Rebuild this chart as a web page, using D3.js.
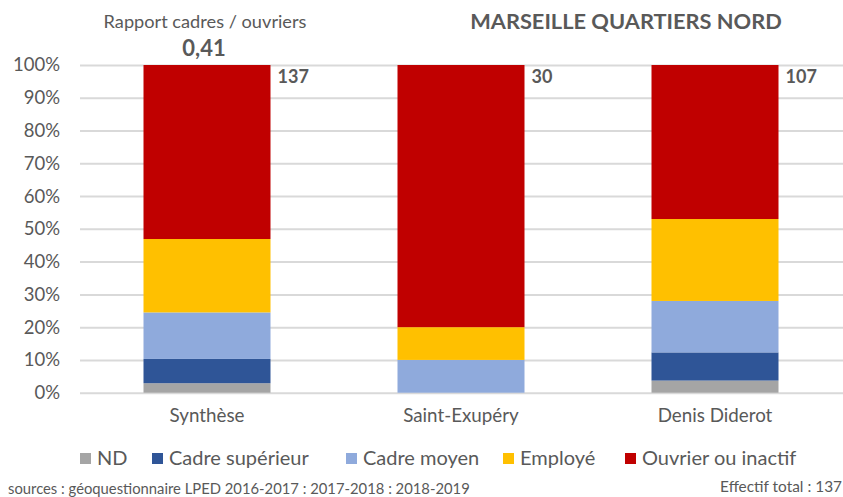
<!DOCTYPE html>
<html>
<head>
<meta charset="utf-8">
<script src="https://cdn.jsdelivr.net/npm/d3@7/dist/d3.min.js"></script>
<style>
  html, body { margin: 0; padding: 0; background: #fff; }
  svg { display: block; font-family: Lato, "Open Sans", sans-serif; }
</style>
</head>
<body>
<svg id="chart" width="843" height="497"></svg>
<script>
// Établissements (colonnes)
const categories = ["Synthèse", "Saint-Exupéry", "Denis Diderot"];
// Catégories socio-professionnelles, de bas en haut
const seriesNames = ["ND", "Cadre supérieur", "Cadre moyen", "Employé", "Ouvrier ou inactif"];
const seriesColors = ["#a5a5a5", "#2f5597", "#8faadc", "#ffc000", "#c00000"];
// Parts en % par établissement
const ndValues      = [2.9, 0.0, 3.7];
const cadreSupValues = [7.4, 0.0, 8.6];
const cadreMoyValues = [14.2, 10.0, 15.7];
const employeValues  = [22.4, 10.0, 25.0];
const ouvrierValues  = [53.1, 80.0, 47.0];
// Effectifs affichés au sommet des barres
const effectifs = [137, 30, 107];
const yTicks = [0, 10, 20, 30, 40, 50, 60, 70, 80, 90, 100];
const ratioLabel = "Rapport cadres / ouvriers";
const ratioValue = "0,41";
const titleText = "MARSEILLE QUARTIERS NORD";
const sourceText = "sources : géoquestionnaire LPED 2016-2017 : 2017-2018 : 2018-2019";
const totalText = "Effectif total : 137";

const seriesValues = [ndValues, cadreSupValues, cadreMoyValues, employeValues, ouvrierValues];
const rows = categories.map((c, i) => {
  const r = { cat: c };
  seriesNames.forEach((s, k) => { r[s] = seriesValues[k][i]; });
  return r;
});

const svg = d3.select("#chart");
const grey = "#595959";
const plot = { left: 80, right: 842, top: 65, bottom: 392.7 };

const x = d3.scaleBand().domain(categories).range([plot.left, plot.right])
  .paddingInner(0.5).paddingOuter(0.25);
const y = d3.scaleLinear().domain([0, 100]).range([plot.bottom, plot.top]);

// Grille horizontale + graduations
const yAxis = d3.axisLeft(y).tickValues(yTicks).tickFormat(d => d + "%")
  .tickSize(-(plot.right - plot.left + 1)).tickPadding(20);
const gy = svg.append("g").attr("transform", `translate(${plot.left},0)`).call(yAxis);
gy.select(".domain").remove();
gy.selectAll(".tick line").attr("stroke", "#d9d9d9").attr("stroke-width", 2);
gy.selectAll(".tick text").attr("fill", grey).attr("font-size", 18.5)
  .attr("font-family", "Lato, sans-serif");

// Barres empilées
const stack = d3.stack().keys(seriesNames);
const layers = stack(rows);
svg.append("g").selectAll("g").data(layers).join("g")
  .attr("fill", (d, i) => seriesColors[i])
  .selectAll("rect").data(d => d).join("rect")
  .attr("x", d => x(d.data.cat))
  .attr("width", x.bandwidth())
  .attr("y", d => y(d[1]))
  .attr("height", d => Math.max(0, y(d[0]) - y(d[1])));

// Axe des catégories
const xAxis = d3.axisBottom(x).tickSize(0).tickPadding(16);
const gx = svg.append("g").attr("transform", `translate(0,${plot.bottom})`).call(xAxis);
gx.select(".domain").remove();
gx.selectAll(".tick text").attr("fill", grey).attr("font-size", 18.8)
  .attr("font-family", "Lato, sans-serif");

// Effectifs
svg.append("g").selectAll("text").data(categories).join("text")
  .attr("x", d => x(d) + x.bandwidth() + 7)
  .attr("y", y(100) + 18)
  .attr("fill", grey).attr("font-size", 18).attr("font-weight", "bold")
  .text((d, i) => effectifs[i]);

// Rapport cadres / ouvriers
const cx0 = x(categories[0]) + x.bandwidth() / 2;
svg.append("text").attr("x", cx0 - 2).attr("y", 28).attr("text-anchor", "middle")
  .attr("fill", grey).attr("font-size", 18.2).text(ratioLabel);
svg.append("text").attr("x", cx0 - 3).attr("y", 56).attr("text-anchor", "middle")
  .attr("fill", grey).attr("font-size", 22).attr("font-weight", "bold").text(ratioValue);

// Titre
svg.append("text").attr("x", 626).attr("y", 29).attr("text-anchor", "middle")
  .attr("fill", grey).attr("font-size", 21.8).attr("font-weight", "bold").text(titleText);

// Légende
const legendStarts = [80, 152, 346, 503, 625];
const lg = svg.append("g").selectAll("g").data(seriesNames).join("g")
  .attr("transform", (d, i) => `translate(${legendStarts[i]},453)`);
lg.append("rect").attr("width", 11).attr("height", 11).attr("fill", (d, i) => seriesColors[i]);
lg.append("text").attr("x", 17).attr("y", 11.5).attr("fill", grey).attr("font-size", 20).text(d => d);

// Sources
svg.append("text").attr("x", 8).attr("y", 494).attr("fill", grey).attr("font-size", 14.8)
  .text(sourceText);
svg.append("text").attr("x", 842).attr("y", 492).attr("text-anchor", "end")
  .attr("fill", grey).attr("font-size", 15.4).text(totalText);
</script>
</body>
</html>
